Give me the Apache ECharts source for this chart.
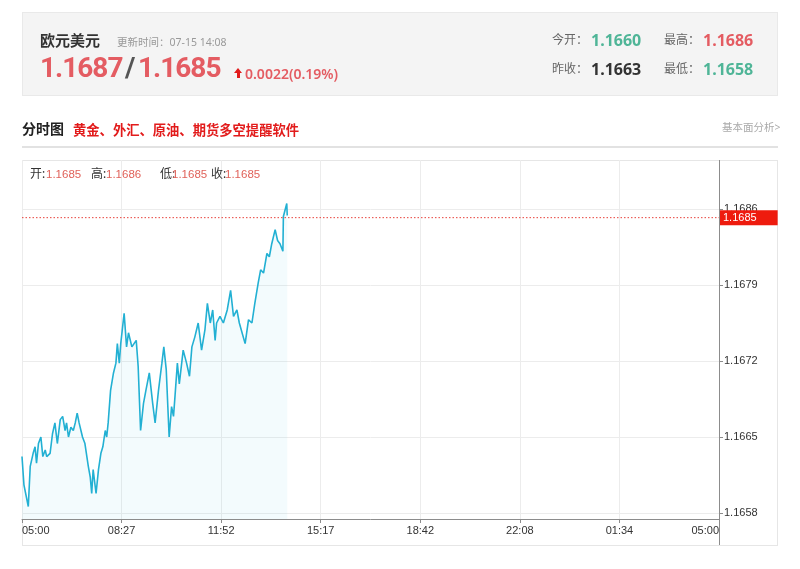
<!DOCTYPE html>
<html><head><meta charset="utf-8">
<script src="https://cdn.jsdelivr.net/npm/echarts@6/dist/echarts.min.js"></script>
<style>
body{margin:0;width:800px;height:569px;background:#fff;position:relative;overflow:hidden;font-family:'Noto Sans','Noto Sans CJK SC',sans-serif}
.a{position:absolute;white-space:nowrap;z-index:3}
#hdr{position:absolute;left:22px;top:12px;width:756px;height:84px;background:#f4f4f4;border:1px solid #e9e9e9;box-sizing:border-box}
#box{position:absolute;left:22px;top:160px;width:756px;height:386px;border:1px solid #e6e6e6;box-sizing:border-box}
#uline{position:absolute;left:22px;top:146px;width:756px;height:2px;background:#e2e2e2}
#chart{position:absolute;left:0;top:0;width:800px;height:569px;z-index:2}
.red{color:#e45c62}.grn{color:#4fb597}
.big{font-family:Roboto,'Noto Sans',sans-serif;font-weight:bold;font-size:28px;line-height:30px;letter-spacing:-1px}
.lab{font-size:12px;color:#666;line-height:16px}
.num{font-size:16px;font-weight:bold;line-height:20px}
.ol{font-size:12px;line-height:16px;color:#333;top:166px}
.ov{font-size:11.5px;line-height:16px;color:#e0625a;top:166px;font-family:'Liberation Sans',sans-serif}
#arr{position:absolute;left:234px;top:68px;width:0;height:0;border-left:4px solid transparent;border-right:4px solid transparent;border-bottom:5px solid #e21b1b;z-index:3}
#arrs{position:absolute;left:236.5px;top:72px;width:3px;height:6px;background:#e21b1b;z-index:3}
</style></head>
<body>
<div id="hdr"></div>
<div class="a" style="left:40px;top:30px;font-size:15px;font-weight:bold;color:#333;line-height:20px">欧元美元</div>
<div class="a" style="left:117px;top:34px;font-size:10.5px;color:#999;line-height:16px">更新时间：07-15 14:08</div>
<div class="a big red" style="left:40px;top:53px">1.1687</div>
<div class="a big" style="left:125px;top:53px;color:#555">/</div>
<div class="a big red" style="left:138px;top:53px">1.1685</div>
<div id="arr"></div><div id="arrs"></div>
<div class="a red" style="left:245px;top:65px;font-size:14px;line-height:18px;font-weight:600">0.0022(0.19%)</div>
<div class="a lab" style="left:552px;top:32px">今开：</div>
<div class="a num grn" style="left:591px;top:30px">1.1660</div>
<div class="a lab" style="left:664px;top:32px">最高：</div>
<div class="a num red" style="left:703px;top:30px">1.1686</div>
<div class="a lab" style="left:552px;top:61px">昨收：</div>
<div class="a num" style="left:591px;top:59px;color:#333">1.1663</div>
<div class="a lab" style="left:664px;top:61px">最低：</div>
<div class="a num grn" style="left:703px;top:59px">1.1658</div>
<div class="a" style="left:22px;top:119px;font-size:14px;font-weight:bold;color:#222;line-height:20px">分时图</div>
<div class="a" style="left:73px;top:120px;font-size:13.3px;font-weight:bold;color:#e21b1b;line-height:20px">黄金、外汇、原油、期货多空提醒软件</div>
<div class="a" style="left:722px;top:120px;font-size:10.5px;color:#aaa;line-height:14px">基本面分析&gt;</div>
<div id="uline"></div>
<div id="box"></div>
<div class="a ol" style="left:30px">开:</div><div class="a ov" style="left:46px">1.1685</div>
<div class="a ol" style="left:91px">高:</div><div class="a ov" style="left:106px">1.1686</div>
<div class="a ol" style="left:160px">低:</div><div class="a ov" style="left:172px">1.1685</div>
<div class="a ol" style="left:211px">收:</div><div class="a ov" style="left:225px">1.1685</div>
<div id="chart"></div>
<script>
const xLabels = ['05:00','08:27','11:52','15:17','18:42','22:08','01:34','05:00'];
const yTicks = [1.16578, 1.16648, 1.16718, 1.16788, 1.16858];
const minutes = [0,4,13,17,23,27,30,34,39,43,48,51,58,63,68,73,79,84,89,92,96,101,106,110,114,118,125,130,137,141,144,147,153,158,163,167,172,175,178,183,189,194,197,201,204,211,216,220,227,236,240,245,251,256,263,270,275,282,289,293,298,304,309,313,316,321,325,333,340,346,351,357,364,371,378,383,389,394,399,402,409,416,424,431,437,444,449,461,468,475,481,488,493,499,506,511,516,523,528,533,539,540,543,547,548];
const prices = [1.16630,1.16604,1.16584,1.16621,1.16633,1.16639,1.16624,1.16642,1.16648,1.16630,1.16636,1.16630,1.16633,1.16651,1.16661,1.16642,1.16664,1.16667,1.16654,1.16661,1.16648,1.16657,1.16654,1.16661,1.16670,1.16661,1.16648,1.16642,1.16621,1.16611,1.16596,1.16618,1.16596,1.16618,1.16633,1.16639,1.16654,1.16648,1.16661,1.16691,1.16707,1.16716,1.16734,1.16716,1.16734,1.16762,1.16731,1.16744,1.16731,1.16737,1.16713,1.16654,1.16679,1.16691,1.16707,1.16679,1.16661,1.16691,1.16716,1.16731,1.16710,1.16648,1.16676,1.16667,1.16685,1.16716,1.16697,1.16728,1.16716,1.16704,1.16731,1.16740,1.16753,1.16728,1.16747,1.16771,1.16753,1.16765,1.16737,1.16753,1.16759,1.16753,1.16765,1.16783,1.16759,1.16765,1.16753,1.16734,1.16756,1.16753,1.16771,1.16790,1.16802,1.16799,1.16817,1.16814,1.16826,1.16839,1.16829,1.16826,1.16819,1.16851,1.16852,1.16863,1.16852];
const lastPrice = 1.1685;
const SPAN = 1440;
const step = SPAN / (xLabels.length - 1);

const chart = echarts.init(document.getElementById('chart'));
chart.setOption({
  animation: false,
  grid: {left: 22, right: 81, top: 160, bottom: 50},
  xAxis: {
    type: 'value', min: 0, max: SPAN, interval: step,
    axisLine: {onZero: false, lineStyle: {color: '#8c8c8c'}},
    axisTick: {show: true, length: 4, lineStyle: {color: '#8c8c8c'}},
    axisLabel: {color: '#333', fontSize: 11, fontFamily: 'Liberation Sans', margin: 6,
      showMinLabel: true, showMaxLabel: true, alignMinLabel: 'left', alignMaxLabel: 'right',
      formatter: v => xLabels[Math.round(v / step)]},
    splitLine: {show: true, lineStyle: {color: '#ececec'}}
  },
  yAxis: {
    type: 'value', position: 'right', min: 1.165725, max: 1.169031,
    axisLine: {show: false, onZero: false},
    axisTick: {show: true, length: 4, customValues: yTicks, lineStyle: {color: '#8c8c8c'}},
    axisLabel: {customValues: yTicks, color: '#333', fontSize: 11, fontFamily: 'Liberation Sans', margin: 5,
      formatter: v => v.toFixed(4)},
    splitLine: {show: true, lineStyle: {color: '#ececec'}}
  },
  series: [{
    type: 'line', data: minutes.map((m, i) => [m, prices[i]]),
    showSymbol: false, symbol: 'none',
    lineStyle: {color: '#22b0d3', width: 1.6},
    areaStyle: {color: 'rgba(38,178,212,0.08)', origin: 'start'}
  }, {
    type: 'line', silent: true, z: 5, showSymbol: false, symbol: 'none',
    data: [[0, lastPrice], [SPAN, lastPrice]],
    lineStyle: {type: [1.5, 2], color: '#e8413b', width: 1},
    endLabel: {show: true, distance: 0, formatter: lastPrice.toFixed(4), color: '#fff',
      backgroundColor: '#ee1b0e', fontSize: 11, fontFamily: 'Liberation Sans', lineHeight: 11, padding: [2, 21, 2, 4]}
  }],
  graphic: [{type: 'line', z: 10, shape: {x1: 719.5, y1: 160, x2: 719.5, y2: 545}, style: {stroke: '#8c8c8c', lineWidth: 1}}]
});
</script>
</body></html>
